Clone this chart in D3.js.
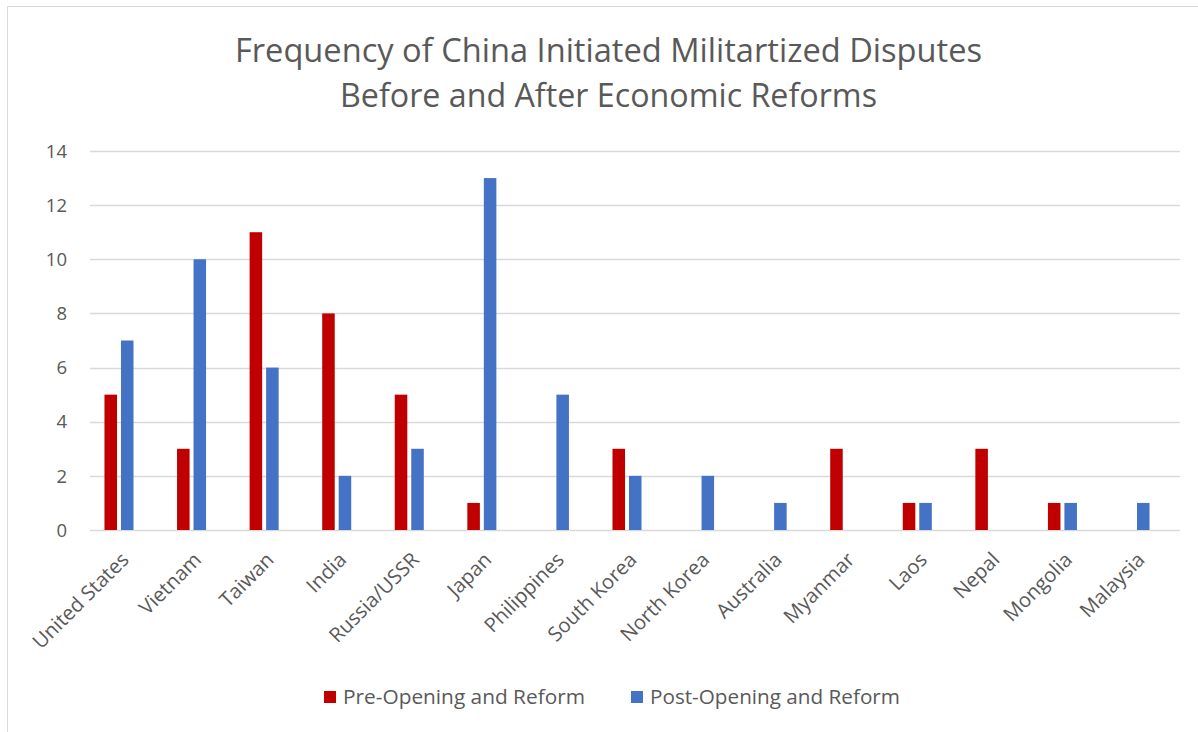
<!DOCTYPE html>
<html>
<head>
<meta charset="utf-8">
<script src="https://cdn.jsdelivr.net/npm/d3@7"></script>
<style>
  html, body { margin: 0; padding: 0; background: #fff; }
  svg { display: block; font-family: "Open Sans", "Noto Sans", sans-serif; }
</style>
</head>
<body>
<svg id="chart" width="1198" height="732"></svg>
<script>
// Countries targeted by China-initiated militarized disputes
const categories = ["United States", "Vietnam", "Taiwan", "India", "Russia/USSR", "Japan",
  "Philippines", "South Korea", "North Korea", "Australia", "Myanmar", "Laos", "Nepal",
  "Mongolia", "Malaysia"];
const seriesNames = ["Pre-Opening and Reform", "Post-Opening and Reform"];
const preReform  = [5, 3, 11, 8, 5, 1, 0, 3, 0, 0, 3, 1, 3, 1, 0];
const postReform = [7, 10, 6, 2, 3, 13, 5, 2, 2, 1, 0, 1, 0, 1, 1];
const yTicks = [0, 2, 4, 6, 8, 10, 12, 14];
const titleLines = ["Frequency of China Initiated Militartized Disputes",
  "Before and After Economic Reforms"];
const colors = ["#C00000", "#4472C4"];

const svg = d3.select("#chart");
const textColor = "#595959";

// outer chart frame
svg.append("rect")
  .attr("x", 7.5).attr("y", 6.5).attr("width", 1200).attr("height", 740)
  .attr("fill", "#fff").attr("stroke", "#D9D9D9").attr("stroke-width", 1);

// shrink/grow a text's font so its width hits a target
function fitWidth(sel, target) {
  const w = sel.node().getComputedTextLength();
  const fs = parseFloat(sel.attr("font-size"));
  sel.attr("font-size", (fs * target / w).toFixed(2));
}

// title
const titleWidths = [747, 537];
const titleY = [62, 107];
titleLines.forEach((t, i) => {
  const el = svg.append("text")
    .attr("x", 608.5).attr("y", titleY[i])
    .attr("text-anchor", "middle")
    .attr("font-size", 28)
    .attr("fill", textColor)
    .text(t);
  fitWidth(el, titleWidths[i]);
});

const gridLeft = 90, gridRight = 1180;
const y = d3.scaleLinear().domain([0, 14]).range([530, 151]);
const x = d3.scaleBand().domain(categories).range([82.7, 1171.3]).paddingInner(0.6).paddingOuter(0.3);
const xs = d3.scaleBand().domain(seriesNames).range([0, x.bandwidth()]).paddingInner(0.24);

// horizontal gridlines
svg.append("g")
  .selectAll("line")
  .data(yTicks)
  .join("line")
  .attr("x1", gridLeft).attr("x2", gridRight)
  .attr("y1", d => Math.round(y(d)) + 0.5).attr("y2", d => Math.round(y(d)) + 0.5)
  .attr("stroke", "#D9D9D9").attr("stroke-width", 1.3);

// y tick labels
svg.append("g")
  .selectAll("text")
  .data(yTicks)
  .join("text")
  .attr("x", 67).attr("y", d => y(d))
  .attr("dy", "0.36em")
  .attr("text-anchor", "end")
  .attr("font-size", 18.5)
  .attr("fill", textColor)
  .text(d => d);

// bars
const seriesData = [preReform, postReform];
seriesNames.forEach((name, si) => {
  svg.append("g")
    .selectAll("rect")
    .data(categories.map((c, i) => ({ c, v: seriesData[si][i] })))
    .join("rect")
    .attr("x", d => x(d.c) + xs(name))
    .attr("y", d => y(d.v))
    .attr("width", xs.bandwidth())
    .attr("height", d => y(0) - y(d.v))
    .attr("fill", colors[si]);
});

// rotated category labels
svg.append("g")
  .selectAll("text")
  .data(categories)
  .join("text")
  .attr("transform", d => `translate(${x(d) + x.bandwidth() / 2 + 11},${561}) rotate(-45)`)
  .attr("text-anchor", "end")
  .attr("font-size", 20.2)
  .attr("fill", textColor)
  .text(d => d);

// legend
const legendX = [324, 631];
const legendW = [242, 250];
seriesNames.forEach((name, i) => {
  svg.append("rect")
    .attr("x", legendX[i]).attr("y", 691).attr("width", 12).attr("height", 12)
    .attr("fill", colors[i]);
  const el = svg.append("text")
    .attr("x", legendX[i] + 19).attr("y", 704)
    .attr("font-size", 19)
    .attr("fill", textColor)
    .text(name);
  fitWidth(el, legendW[i]);
});
</script>
</body>
</html>
